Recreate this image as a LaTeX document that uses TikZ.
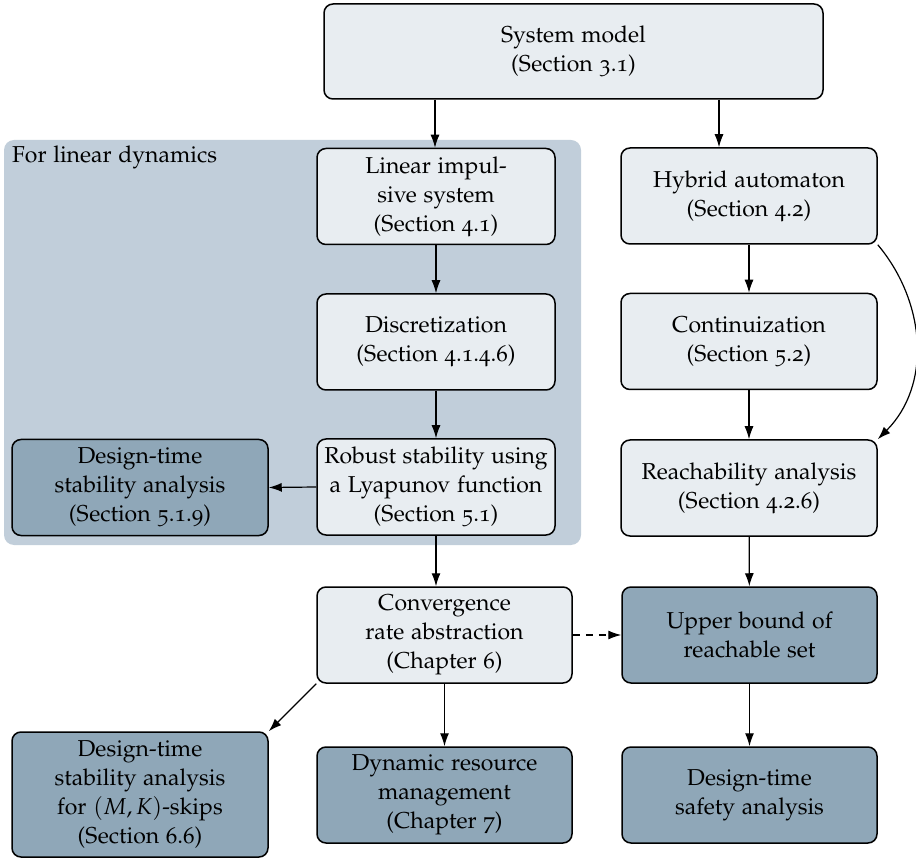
\documentclass[tikz,border=0pt]{standalone}
\usepackage[T1]{fontenc}
\usepackage[osf]{mathpazo}
\usetikzlibrary{arrows.meta,calc}

\definecolor{boxlight}{HTML}{E8EDF1}
\definecolor{boxdark}{HTML}{8FA7B8}
\definecolor{regionfill}{HTML}{C1CEDA}

\begin{document}
\begin{tikzpicture}[x=1pt,y=-1pt,
  every node/.style={font=\fontsize{23}{29}\selectfont},
  basebox/.style={draw=black, line width=1.5pt, rounded corners=9pt,
    align=center, inner sep=0pt, minimum height=96pt},
  lightbox/.style={basebox, fill=boxlight},
  darkbox/.style={basebox, fill=boxdark},
  flow/.style={line width=1.2pt, -{Latex[length=13pt,width=9pt]}},
]
\useasboundingbox (0,0) rectangle (916,858);

% shaded region grouping the linear-dynamics path
\fill[regionfill, rounded corners=10pt] (4,140) rectangle (581,545);
\node[anchor=north west, inner sep=0pt] (lintitle) at (12,146) {For linear dynamics};

% boxes
\node[lightbox, minimum width=499pt, minimum height=95pt] (sys) at (573.5,51.5) {System model\\(Section 3.1)};

\node[lightbox, minimum width=238pt] (lin) at (436,196.5) {Linear impul-\\sive system\\(Section 4.1)};
\node[lightbox, minimum width=238pt] (disc) at (436,342) {Discretization\\(Section 4.1.4.6)};
\node[lightbox, minimum width=238pt] (rob) at (436,487) {Robust stability using\\a Lyapunov function\\(Section 5.1)};
\node[darkbox, minimum width=256pt] (dts) at (140,487.5) {Design-time\\stability analysis\\(Section 5.1.9)};

\node[lightbox, minimum width=256pt] (hyb) at (749,196) {Hybrid automaton\\(Section 4.2)};
\node[lightbox, minimum width=256pt] (cont) at (749,341.5) {Continuization\\(Section 5.2)};
\node[lightbox, minimum width=256pt] (reach) at (749,488) {Reachability analysis\\(Section 4.2.6)};

\node[lightbox, minimum width=255pt] (conv) at (444.5,635) {Convergence\\rate abstraction\\(Chapter 6)};
\node[darkbox, minimum width=255pt] (ub) at (749.5,635) {Upper bound of\\reachable set};

\node[darkbox, minimum width=256pt, minimum height=125pt] (mk) at (140,794.5) {Design-time\\stability analysis\\for $(M,K)$-skips\\(Section 6.6)};
\node[darkbox, minimum width=255pt] (dyn) at (444.5,795) {Dynamic resource\\management\\(Chapter 7)};
\node[darkbox, minimum width=255pt] (safe) at (749.5,795) {Design-time\\safety analysis};

% connectors
\coordinate (sysL) at ($(sys.south)+(-138.5,0)$);
\coordinate (sysR) at ($(sys.south)+(145.5,0)$);
\draw[flow] (sysL) -- (sysL |- lin.north);
\draw[flow] (sysR) -- (sysR |- hyb.north);
\draw[flow] (lin) -- (disc);
\draw[flow] (disc) -- (rob);
\draw[flow] (rob.west) -- (dts.east);
\draw[flow] (rob.south) -- (rob.south |- conv.north);
\draw[flow] (hyb) -- (cont);
\draw[flow] (cont) -- (reach);
\draw[flow] (hyb.south east) to[out=-50,in=45] (reach.north east);
\draw[flow] (reach) -- (ub);
\draw[flow, dashed, dash pattern=on 7pt off 6pt] (conv.east) -- (ub.west);
\draw[flow] (ub) -- (safe);
\draw[flow] (conv) -- (dyn);
\draw[flow] (conv.south west) -- (mk.north east);
\end{tikzpicture}
\end{document}
